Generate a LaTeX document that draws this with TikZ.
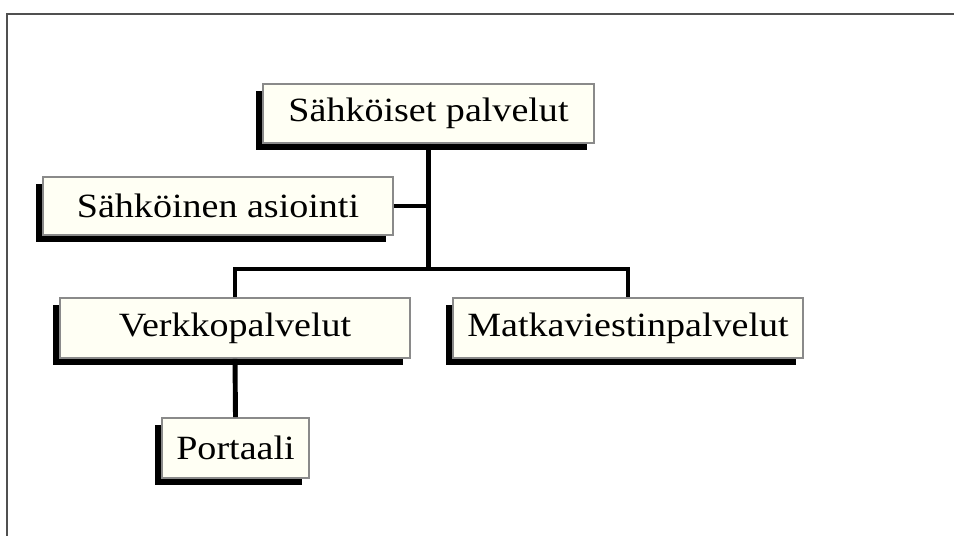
\documentclass[tikz,border=0pt]{standalone}
\usepackage{fontspec}
\setmainfont{Liberation Serif}[FakeStretch=1.12]
\usetikzlibrary{shadows, positioning}
\definecolor{boxfill}{HTML}{FFFFF4}
\definecolor{boxline}{HTML}{8A8A8A}
\definecolor{frameline}{HTML}{505050}
\tikzset{
    palvelu/.style={draw=boxline, line width=1.6pt, fill=boxfill, inner sep=0pt,
        minimum width=10.5cm, minimum height=1.8cm,
        font=\fontsize{29}{35}\selectfont,
        general shadow={fill=black, shadow xshift=-0.22cm, shadow yshift=-0.22cm}},
    haara/.style={line width=4.2pt}
}

\begin{document}
\begin{tikzpicture}[x=0.03cm,y=-0.03cm]
    \useasboundingbox (0,0) rectangle (954,536);

    % frame, only top and left edges show
    \draw [frameline, line width=2.4pt] (7,536) -- (7,14) -- (954,14);

    % boxes
    \node[palvelu, minimum width=9.93cm, minimum height=1.77cm] (sahko) at (428.5,113.5) {Sähköiset palvelut};
    \node[palvelu, minimum height=1.74cm] (asiointi) at (218,206) {Sähköinen asiointi};
    \node[palvelu] (verkko) at (235,328) {Verkkopalvelut};
    \node[palvelu] (matka) at (628,328) {Matkaviestinpalvelut};
    \node[palvelu, minimum width=4.41cm] (portaali) at (235.5,448) {Portaali};

    % connect boxes
    \coordinate (hub) at (sahko.south |- 0,269);
    \draw [haara] (sahko.south) -- (hub);
    \draw [haara] (asiointi.east) -- (asiointi.east -| hub);
    \draw [haara] (verkko.north) -- (verkko.north |- hub) -- (matka.north |- hub) -- (matka.north);
    \draw [haara] (verkko.south) -- (portaali.north);
\end{tikzpicture}
\end{document}
